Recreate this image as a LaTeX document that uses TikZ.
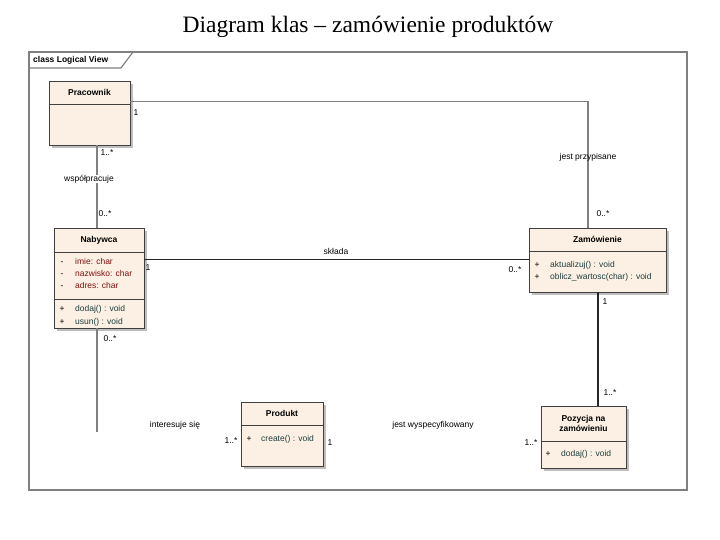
\documentclass[tikz,border=0pt]{standalone}
\usepackage{fontspec}
\setmainfont{Liberation Serif}
\newfontfamily\uisans{Liberation Sans}
\usetikzlibrary{calc}
\definecolor{umlfill}{RGB}{251,240,227}
\definecolor{attrred}{RGB}{128,16,16}
\definecolor{methgreen}{RGB}{30,62,62}
\definecolor{framegray}{RGB}{128,128,128}
\definecolor{shadowgray}{RGB}{190,190,190}
\tikzset{
  umlclass/.style={draw=black!75, line width=0.9pt, fill=umlfill, rectangle, inner sep=0pt},
  txt/.style={font=\uisans\fontsize{8.5}{10}\selectfont, inner sep=0pt, text height=6.3pt, text depth=1.8pt},
  umltitle/.style={font=\uisans\fontsize{8.5}{10}\selectfont\bfseries, inner sep=0pt},
  umlattr/.style={txt, text=attrred, anchor=west},
  umlmeth/.style={txt, text=methgreen, anchor=west},
  umlsign/.style={txt, anchor=center},
  lbl/.style={txt},
  conn/.style={line width=1.2pt, draw=black!85},
  divider/.style={line width=0.9pt, draw=black!75},
}
\begin{document}
\begin{tikzpicture}[x=1pt,y=-1pt]
\useasboundingbox (0,0) rectangle (720,540);
% title
\node[font=\fontsize{23.5}{26}\selectfont, inner sep=0pt] (title) at (368,27) {Diagram klas -- zamówienie produktów};
% frame
\draw[framegray, line width=1.8pt] (29,52) rectangle (687,490);
\draw[framegray, line width=1.2pt] (29,68) -- (121,68) -- (133,52);
\node[font=\uisans\fontsize{8.5}{10}\selectfont\bfseries, anchor=west, inner sep=0pt] (frametitle) at (33,60) {class Logical View};

% shadows
\foreach \x/\y/\w/\h in {49/81/81/64, 54/228/90/100, 529/228/137/64, 541/406/85/62, 241/402/82/64}
  \fill[shadowgray] (\x+3,\y+3) rectangle (\x+\w+3,\y+\h+3);

% Pracownik
\node[umlclass, minimum width=81pt, minimum height=64pt] (prac) at (89.5,113) {};
\draw[divider] ($(prac.north west)+(0,24)$) -- ($(prac.north east)+(0,24)$);
\node[umltitle] (pracT) at ($(prac.north)+(0,12)$) {Pracownik};

% Nabywca
\node[umlclass, minimum width=90pt, minimum height=100pt] (nab) at (99,278) {};
\draw[divider] ($(nab.north west)+(0,25)$) -- ($(nab.north east)+(0,25)$);
\draw[divider] ($(nab.north west)+(0,72)$) -- ($(nab.north east)+(0,72)$);
\node[umltitle] (nabT) at ($(nab.north)+(0,13)$) {Nabywca};
\node[umlsign] (nabS1) at (62,262) {-};
\node[umlsign] (nabS2) at (62,274) {-};
\node[umlsign] (nabS3) at (62,286) {-};
\node[umlattr] (nabA1) at (75,262) {imie: char};
\node[umlattr] (nabA2) at (75,274) {nazwisko: char};
\node[umlattr] (nabA3) at (75,286) {adres: char};
\node[umlsign] (nabS4) at (62,309) {+};
\node[umlsign] (nabS5) at (62,322) {+};
\node[umlmeth] (nabM1) at (75,309) {dodaj() : void};
\node[umlmeth] (nabM2) at (75,322) {usun() : void};

% Zamowienie
\node[umlclass, minimum width=137pt, minimum height=64pt] (zam) at (597.5,260) {};
\draw[divider] ($(zam.north west)+(0,24)$) -- ($(zam.north east)+(0,24)$);
\node[umltitle] (zamT) at ($(zam.north)+(0,12)$) {Zamówienie};
\node[umlsign] (zamS1) at (537,265) {+};
\node[umlsign] (zamS2) at (537,277) {+};
\node[umlmeth] (zamM1) at (550,265) {aktualizuj() : void};
\node[umlmeth] (zamM2) at (550,277) {oblicz\_wartosc(char) : void};

% Pozycja na zamowieniu
\node[umlclass, minimum width=85pt, minimum height=62pt] (poz) at (583.5,437) {};
\draw[divider] ($(poz.north west)+(0,36)$) -- ($(poz.north east)+(0,36)$);
\node[umltitle, align=center] (pozT) at ($(poz.north)+(0,18)$) {Pozycja na\\zamówieniu};
\node[umlsign] (pozS1) at (548,454) {+};
\node[umlmeth] (pozM1) at (561,454) {dodaj() : void};

% Produkt
\node[umlclass, minimum width=82pt, minimum height=64pt] (prod) at (282,434) {};
\draw[divider] ($(prod.north west)+(0,24)$) -- ($(prod.north east)+(0,24)$);
\node[umltitle] (prodT) at ($(prod.north)+(0,12)$) {Produkt};
\node[umlsign] (prodS1) at (249,439) {+};
\node[umlmeth] (prodM1) at (261,439) {create() : void};

% connector end points
\coordinate (pracR) at ($(prac.north east)+(0,21)$);
\coordinate (zamTop) at ($(zam.north)+(-9.5,0)$);
\coordinate (nabTop) at ($(nab.north)+(-2,0)$);
\coordinate (nabR) at ($(nab.north east)+(0,32)$);
\coordinate (zamBot) at ($(zam.south)+(0.5,0)$);
\coordinate (nabBot) at ($(nab.south)+(-2,0)$);
\coordinate (nabend) at (97,432);

% connectors
\draw[conn, draw=framegray] (pracR) -| (zamTop);
\draw[conn, draw=framegray] (nabTop) -- (nabTop |- prac.south);
\draw[conn] (nabR) -- (nabR -| zam.west);
\draw[conn] (zamBot) -- (zamBot |- poz.north);
\draw[conn, draw=framegray] (nabBot) -- (nabend);

% labels
\node[lbl] (l1) at (136,113) {1};
\node[lbl] (l2) at (588,157) {jest przypisane};
\node[lbl] (l3) at (603,214) {0..*};
\node[lbl] (l4) at (107,153) {1..*};
\node[fill=white, txt] (l5) at (89,179) {współpracuje};
\node[lbl] (l6) at (105,214) {0..*};
\node[lbl] (l7) at (336,252) {składa};
\node[lbl] (l8) at (148,268) {1};
\node[lbl] (l9) at (515,270) {0..*};
\node[lbl] (l10) at (605,302) {1};
\node[lbl] (l11) at (610,393) {1..*};
\node[lbl] (l12) at (110,339) {0..*};
\node[lbl] (l13) at (175,425) {interesuje się};
\node[lbl] (l14) at (231,441) {1..*};
\node[lbl] (l15) at (330,443) {1};
\node[lbl] (l16) at (433,425) {jest wyspecyfikowany};
\node[lbl] (l17) at (531,443) {1..*};
\end{tikzpicture}
\end{document}
